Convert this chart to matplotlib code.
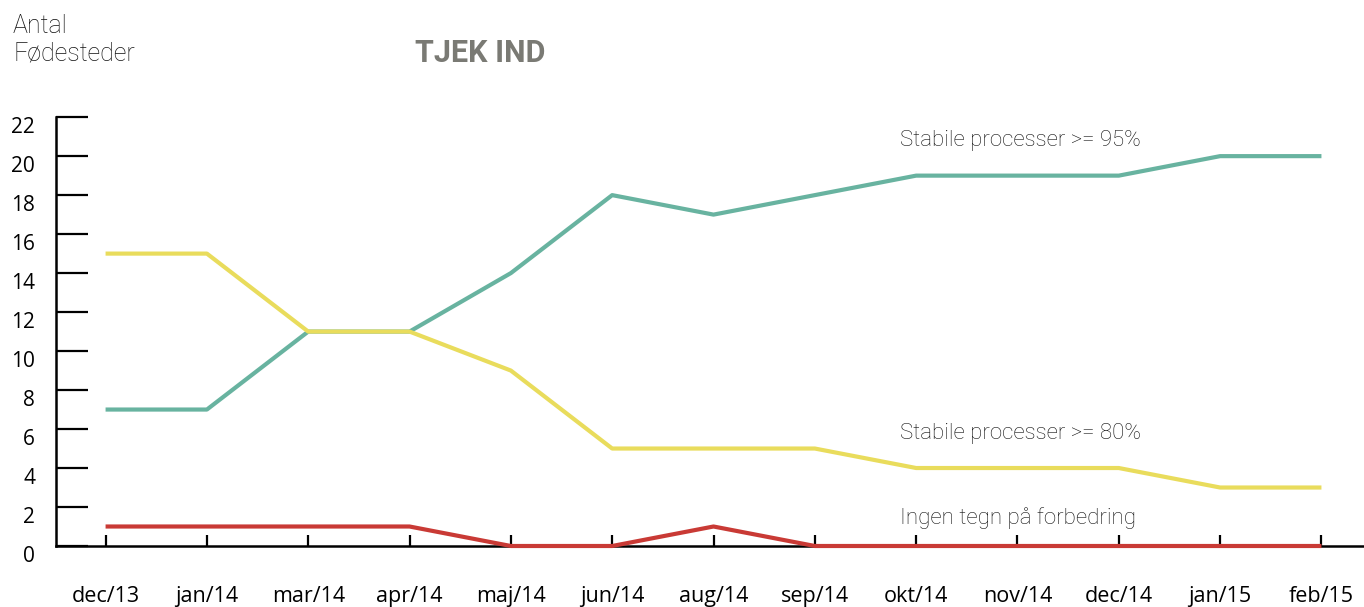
import matplotlib
matplotlib.use("Agg")
import matplotlib.pyplot as plt
from matplotlib.transforms import ScaledTranslation

# Data
months = ["dec/13", "jan/14", "mar/14", "apr/14", "maj/14", "jun/14", "aug/14",
          "sep/14", "okt/14", "nov/14", "dec/14", "jan/15", "feb/15"]
stabil_95 = [7, 7, 11, 11, 14, 18, 17, 18, 19, 19, 19, 20, 20]
stabil_80 = [15, 15, 11, 11, 9, 5, 5, 5, 4, 4, 4, 3, 3]
ingen_tegn = [1, 1, 1, 1, 0, 0, 1, 0, 0, 0, 0, 0, 0]
y_ticks = list(range(0, 23, 2))

TEAL = "#68b3a0"
YELLOW = "#e9dc5c"
RED = "#c93a35"

fig = plt.figure(figsize=(13.64, 6.07), dpi=100)
ax = fig.add_axes([0.041, 0.1005, 0.959, 0.7065])

x = list(range(len(months)))
ax.plot(x, stabil_95, color=TEAL, lw=3, solid_capstyle="butt", zorder=3)
ax.plot(x, stabil_80, color=YELLOW, lw=3, solid_capstyle="butt", zorder=4)
ax.plot(x, ingen_tegn, color=RED, lw=3, solid_capstyle="butt", zorder=5, clip_on=False)

ax.set_xlim(-0.49, 12.42)
ax.set_ylim(0, 22)

for s in ["top", "right"]:
    ax.spines[s].set_visible(False)
ax.spines["left"].set_linewidth(1.8)
ax.spines["bottom"].set_linewidth(1.8)

ax.set_yticks(y_ticks)
ax.set_xticks(x)
ax.set_xticklabels(months)
ax.tick_params(axis="y", direction="in", length=23, width=1.6, pad=15,
               labelsize=15)
ax.tick_params(axis="x", direction="in", length=8, width=1.6, pad=29,
               labelsize=15.5)
for lab in ax.get_yticklabels() + ax.get_xticklabels():
    lab.set_family("Open Sans")
for lab in ax.get_yticklabels():
    lab.set_transform(lab.get_transform() + ScaledTranslation(0, -0.08, fig.dpi_scale_trans))

# Titles
fig.text(13 / 1364, 1 - 40 / 607, "Antal\nFødesteder", fontsize=18, family="Roboto",
         fontweight="light", color="#111111", va="center", ha="left", linespacing=1.2)
fig.text(480 / 1364, 1 - 53 / 607, "TJEK IND", fontsize=22, family="Roboto",
         fontweight="bold", color="#7a7a74", va="center", ha="center")

# Series labels
for y_px, txt in [(140, "Stabile processer >= 95%"),
                  (434, "Stabile processer >= 80%"),
                  (518, "Ingen tegn på forbedring")]:
    fig.text(900 / 1364, 1 - y_px / 607, txt, fontsize=16, family="Roboto",
             fontweight="light", color="#111111", va="center")

fig.savefig("out.png", dpi=100)
